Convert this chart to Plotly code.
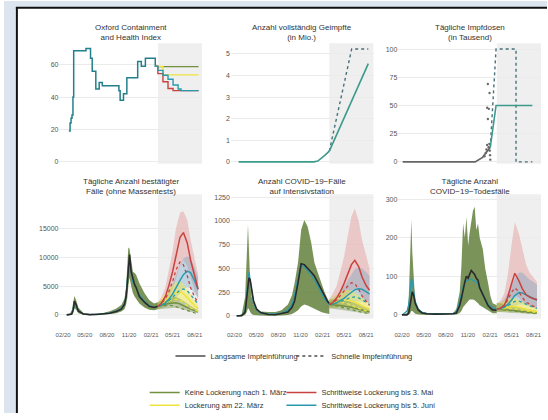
import plotly.graph_objects as go

W, H = 548, 420

# ---------------- shared time settings ----------------
X_RANGE = ["2020-01-17", "2021-09-01"]
SCEN_START = "2021-03-01"
scen_dates = ["2021-03-01", "2021-03-15", "2021-04-01", "2021-04-15", "2021-05-01", "2021-05-15",
              "2021-06-01", "2021-06-15", "2021-07-01", "2021-07-15", "2021-08-01", "2021-08-15"]

scen_names = ["Keine Lockerung nach 1. März", "Lockerung am 22. März",
              "Schrittweise Lockerung bis 3. Mai", "Schrittweise Lockerung bis 5. Juni"]
speed_names = ["Langsame Impfeinführung", "Schnelle Impfeinführung"]

# ---------------- Oxford Containment and Health Index ----------------
ox_dates = ["2020-02-25", "2020-03-01", "2020-03-05", "2020-03-09", "2020-03-13", "2020-03-16",
            "2020-05-06", "2020-05-25", "2020-06-01", "2020-06-16", "2020-06-30", "2020-07-13",
            "2020-09-20", "2020-09-25", "2020-10-09", "2020-10-23", "2020-12-07", "2020-12-22",
            "2021-01-08", "2021-02-18", "2021-03-01"]
ox_index = [19, 24, 27, 29, 40, 68.7, 70, 64, 56, 45, 49, 47, 44, 38, 42, 52, 62, 59, 64, 59, 59]

ox_keine_dates = ["2021-02-18", "2021-03-01", "2021-08-17"]
ox_keine = [59, 58.8, 58.8]
ox_maerz_dates = ["2021-02-18", "2021-03-22", "2021-08-17"]
ox_maerz = [59, 53.7, 53.7]
ox_mai_dates = ["2021-02-18", "2021-03-01", "2021-03-22", "2021-04-12", "2021-05-03", "2021-08-17"]
ox_mai = [59, 54.5, 49.5, 45.3, 44, 44]
ox_juni_dates = ["2021-02-18", "2021-03-01", "2021-03-22", "2021-04-12", "2021-05-03", "2021-05-24",
                 "2021-06-05", "2021-08-17"]
ox_juni = [59, 56.5, 53.5, 51, 47.5, 45, 44, 44]

# ---------------- fully vaccinated (millions) ----------------
vac_hist_dates = ["2020-02-18", "2020-12-27", "2021-01-12", "2021-01-26", "2021-02-10", "2021-03-01"]
vac_hist = [0, 0, 0.04, 0.15, 0.3, 0.5]
vac_slow_dates = ["2021-03-01", "2021-08-10"]
vac_slow = [0.5, 4.55]
vac_fast_dates = ["2021-03-01", "2021-06-02", "2021-08-10"]
vac_fast = [0.5, 5.23, 5.23]

# ---------------- daily vaccine doses (thousands) ----------------
dose_hist_dates = ["2020-02-04", "2020-12-01", "2021-01-01", "2021-01-20", "2021-02-02"]
dose_hist = [0, 0, 4, 10, 13]
dose_obs_dates = ["2021-01-09", "2021-01-14", "2021-01-17", "2021-01-20", "2021-01-20", "2021-01-23",
                  "2021-01-23", "2021-01-26", "2021-01-27", "2021-01-29", "2021-01-30", "2021-01-31",
                  "2021-02-01", "2021-02-02"]
dose_obs = [5, 8, 11, 15, 48, 38, 69, 13, 47, 16, 61, 10, 6, 2]
dose_slow_dates = ["2021-02-02", "2021-02-26", "2021-07-27"]
dose_slow = [13, 50, 50]
dose_fast_dates = ["2021-02-02", "2021-02-26", "2021-05-20", "2021-05-20", "2021-07-27"]
dose_fast = [13, 100, 100, 0, 0]

# ---------------- confirmed cases ----------------
cases_hist_dates = ["2020-02-16", "2020-03-01", "2020-03-08", "2020-03-15", "2020-03-19", "2020-03-26",
                    "2020-04-04", "2020-04-25", "2020-05-22", "2020-06-19", "2020-07-16", "2020-08-13",
                    "2020-09-09", "2020-09-30", "2020-10-13", "2020-10-20", "2020-10-25", "2020-10-29",
                    "2020-11-03", "2020-11-10", "2020-11-17", "2020-11-24", "2020-11-30", "2020-12-14",
                    "2021-01-04", "2021-01-24", "2021-02-13", "2021-03-01"]
cases_obs = [0, 20, 150, 1000, 2400, 1800, 700, 150, 50, 80, 150, 300, 600, 1000, 1800, 3200, 5500,
             8500, 10500, 7500, 6200, 5300, 4800, 3200, 2200, 1500, 1300, 1500]
cases_fit = [0, 30, 250, 1200, 2300, 1800, 700, 150, 60, 100, 180, 350, 650, 1100, 1900, 3300, 5500,
             8200, 9000, 7000, 5800, 5200, 4700, 3500, 2400, 1600, 1300, 1500]
cases_hi = [50, 200, 800, 2200, 3300, 2600, 1300, 350, 150, 200, 350, 650, 1100, 1700, 2800, 5000, 8000,
            11700, 11500, 9000, 7500, 7300, 7000, 5500, 3800, 2600, 2000, 2200]
cases_lo = [0, 0, 30, 400, 1200, 900, 300, 50, 20, 30, 60, 150, 300, 600, 1000, 1800, 3000, 5000, 6500,
            5000, 3800, 3200, 2800, 2000, 1300, 900, 800, 1000]

cases_keine = [1500, 1600, 1800, 2000, 2100, 2100, 1900, 1600, 1300, 1000, 750, 550]
cases_keine_lo = [1000, 1050, 1150, 1250, 1300, 1250, 1100, 900, 720, 550, 400, 300]
cases_keine_hi = [2200, 2400, 2700, 3000, 3100, 3100, 2800, 2400, 1900, 1500, 1100, 850]
cases_keine_fast = [1500, 1550, 1650, 1700, 1600, 1400, 1150, 900, 700, 500, 350, 250]
cases_maerz = [1500, 1900, 2500, 3000, 3500, 3900, 4000, 3700, 3000, 2300, 1600, 1100]
cases_maerz_lo = [1000, 1200, 1600, 1900, 2200, 2400, 2400, 2200, 1800, 1300, 900, 600]
cases_maerz_hi = [2200, 2800, 3700, 4500, 5200, 5700, 5800, 5400, 4500, 3500, 2500, 1800]
cases_maerz_fast = [1500, 1800, 2200, 2500, 2700, 2700, 2500, 2100, 1600, 1200, 900, 600]
cases_mai = [1500, 2000, 3200, 5000, 7500, 10500, 13500, 14300, 12500, 9500, 6500, 4500]
cases_mai_lo = [1000, 1300, 2000, 3000, 4500, 6500, 8500, 9500, 8500, 6500, 4300, 3000]
cases_mai_hi = [2200, 3000, 4800, 7500, 11000, 15000, 17800, 18000, 16500, 13000, 9500, 7000]
cases_mai_fast = [1500, 1900, 2800, 4000, 5800, 7800, 9200, 8700, 6800, 4700, 3100, 2100]
cases_juni = [1500, 1700, 2100, 2700, 3600, 4800, 6000, 7000, 7600, 7300, 5900, 4400]
cases_juni_lo = [1000, 1100, 1350, 1700, 2200, 2900, 3700, 4400, 4800, 4600, 3700, 2800]
cases_juni_hi = [2200, 2500, 3100, 4000, 5300, 7000, 8700, 9800, 10200, 9800, 8200, 6500]
cases_juni_fast = [1500, 1650, 2000, 2400, 3000, 3700, 4300, 4500, 4200, 3500, 2600, 1900]

# ---------------- ICU occupancy ----------------
icu_hist_dates = ["2020-02-10", "2020-03-02", "2020-03-16", "2020-03-23", "2020-03-28", "2020-04-01",
                  "2020-04-06", "2020-04-12", "2020-04-20", "2020-05-03", "2020-05-20", "2020-06-20",
                  "2020-07-20", "2020-08-14", "2020-09-10", "2020-09-27", "2020-10-08", "2020-10-22",
                  "2020-11-04", "2020-11-17", "2020-12-01", "2020-12-16", "2020-12-29", "2021-01-12",
                  "2021-01-26", "2021-02-09", "2021-02-22", "2021-03-01"]
icu_hi = [0, 20, 200, 600, 960, 700, 350, 200, 120, 60, 45, 40, 40, 60, 120, 217, 350, 561, 906, 1009,
          940, 768, 561, 458, 355, 251, 180, 150]
icu_lo = [0, 0, 10, 40, 80, 70, 40, 20, 10, 5, 3, 2, 2, 5, 10, 20, 35, 60, 100, 120, 110, 90, 70, 55,
          40, 30, 25, 20]
icu_obs = [0, 2, 40, 200, 330, 400, 380, 280, 160, 70, 35, 15, 12, 25, 40, 90, 160, 350, 550, 540, 505,
           460, 420, 350, 285, 200, 150, 130]
icu_fit = [0, 5, 60, 250, 420, 460, 380, 250, 130, 60, 30, 20, 20, 30, 60, 120, 220, 400, 530, 520, 480,
           430, 380, 320, 250, 180, 140, 120]

icu_keine = [120, 120, 115, 110, 105, 100, 90, 80, 70, 60, 50, 40]
icu_keine_lo = [80, 75, 70, 65, 60, 55, 50, 42, 36, 30, 25, 20]
icu_keine_hi = [170, 175, 175, 170, 165, 160, 150, 135, 120, 105, 90, 75]
icu_keine_fast = [120, 115, 105, 95, 85, 75, 62, 50, 40, 32, 25, 20]
icu_maerz = [120, 130, 145, 160, 170, 170, 160, 145, 125, 105, 85, 70]
icu_maerz_lo = [80, 85, 90, 95, 95, 90, 85, 75, 65, 55, 45, 35]
icu_maerz_hi = [170, 190, 220, 250, 270, 275, 265, 245, 215, 185, 155, 130]
icu_maerz_fast = [120, 125, 135, 140, 140, 130, 115, 95, 80, 65, 50, 40]
icu_mai = [120, 140, 190, 250, 340, 430, 540, 585, 520, 410, 320, 270]
icu_mai_lo = [80, 90, 110, 140, 180, 220, 270, 290, 260, 200, 160, 130]
icu_mai_hi = [180, 230, 320, 450, 620, 820, 1050, 1130, 1000, 800, 620, 500]
icu_mai_fast = [120, 135, 170, 210, 260, 310, 350, 340, 280, 210, 150, 110]
icu_juni = [120, 125, 140, 160, 185, 215, 250, 275, 285, 280, 255, 230]
icu_juni_lo = [80, 80, 85, 95, 105, 120, 135, 150, 155, 150, 140, 125]
icu_juni_hi = [170, 190, 220, 260, 310, 370, 440, 490, 510, 500, 460, 420]
icu_juni_fast = [120, 125, 135, 150, 165, 180, 195, 200, 190, 170, 145, 120]

# ---------------- daily deaths ----------------
deaths_hist_dates = ["2020-02-01", "2020-02-22", "2020-02-29", "2020-03-07", "2020-03-11", "2020-03-15",
                     "2020-03-21", "2020-03-27", "2020-04-09", "2020-04-25", "2020-05-14", "2020-06-20",
                     "2020-07-20", "2020-09-01", "2020-09-14", "2020-09-28", "2020-10-05", "2020-10-12",
                     "2020-10-19", "2020-10-26", "2020-11-02", "2020-11-08", "2020-11-15", "2020-11-22",
                     "2020-11-29", "2020-12-06", "2020-12-13", "2020-12-20", "2021-01-02", "2021-01-12",
                     "2021-01-23", "2021-02-02", "2021-02-12", "2021-03-01"]
deaths_hi = [0, 5, 42, 170, 246, 161, 76, 34, 13, 8, 5, 4, 4, 5, 15, 60, 127, 237, 200, 254, 180, 212,
             240, 270, 280, 220, 237, 200, 170, 120, 85, 50, 30, 25]
deaths_lo = [0, 0, 0, 5, 10, 10, 5, 3, 1, 0, 0, 0, 0, 0, 1, 5, 10, 20, 25, 30, 35, 40, 40, 40, 38, 35,
             30, 25, 20, 15, 10, 6, 4, 4]
deaths_obs = [0, 0, 5, 25, 45, 60, 50, 30, 12, 5, 3, 2, 2, 3, 5, 25, 43, 70, 85, 100, 95, 105, 115, 110,
              105, 95, 90, 70, 51, 40, 25, 18, 13, 12]
deaths_fit = [0, 10, 25, 60, 95, 85, 60, 35, 15, 6, 4, 3, 3, 4, 8, 35, 55, 72, 82, 88, 90, 92, 92, 90,
              88, 85, 80, 70, 55, 42, 30, 22, 18, 15]

deaths_keine = [15, 15, 14, 13, 12, 11, 10, 9, 8, 7, 6, 5]
deaths_keine_lo = [8, 7, 7, 6, 5, 5, 4, 4, 3, 3, 2, 2]
deaths_keine_hi = [30, 30, 28, 26, 24, 22, 20, 18, 16, 14, 12, 10]
deaths_keine_fast = [15, 14, 13, 12, 10, 9, 7, 6, 5, 4, 3, 3]
deaths_maerz = [15, 16, 18, 20, 22, 22, 20, 17, 14, 12, 10, 9]
deaths_maerz_lo = [8, 8, 9, 9, 10, 10, 9, 8, 6, 5, 4, 4]
deaths_maerz_hi = [30, 32, 36, 40, 44, 44, 40, 35, 29, 25, 21, 19]
deaths_maerz_fast = [15, 15, 16, 17, 17, 16, 14, 12, 10, 8, 7, 6]
deaths_mai = [15, 17, 25, 45, 80, 108, 88, 68, 52, 46, 42, 40]
deaths_mai_lo = [8, 9, 12, 20, 35, 50, 45, 35, 27, 22, 20, 18]
deaths_mai_hi = [30, 35, 55, 100, 180, 240, 210, 170, 130, 110, 95, 85]
deaths_mai_fast = [15, 17, 24, 38, 58, 70, 60, 45, 33, 27, 22, 18]
deaths_juni = [15, 16, 20, 27, 38, 50, 58, 57, 52, 47, 42, 38]
deaths_juni_lo = [8, 8, 10, 13, 18, 23, 27, 27, 25, 22, 20, 18]
deaths_juni_hi = [30, 32, 40, 55, 75, 95, 110, 110, 100, 92, 85, 78]
deaths_juni_fast = [15, 16, 19, 24, 30, 35, 36, 33, 28, 24, 20, 17]

# ---------------- styling ----------------
C_GREEN = "#71913f"
C_YELLOW = "#eee43c"
C_RED = "#c8423f"
C_TEAL = "#2b9aae"
C_OX = "#23808a"
C_VAC = "#3c9a8c"
C_VAC_DOT = "#46707a"
C_DARK = "#4d4d4d"
FILL_HIST = "rgba(98,128,60,0.85)"
FILL = {"keine": "rgba(110,140,60,0.40)", "maerz": "rgba(245,235,60,0.45)",
        "mai": "rgba(225,110,110,0.30)", "juni": "rgba(80,150,190,0.30)"}
LINE = {"keine": C_GREEN, "maerz": C_YELLOW, "mai": C_RED, "juni": C_TEAL}
FONT = "Liberation Sans, Arial, sans-serif"


def px(x):
    return x / W


def py(y):
    return 1 - y / H


fig = go.Figure()


def axes_of(i):
    return ("x" if i == 1 else f"x{i}"), ("y" if i == 1 else f"y{i}")


def add_line(i, x, y, color, width=1.4, dash="solid", shape="linear"):
    xa, ya = axes_of(i)
    fig.add_trace(go.Scatter(x=x, y=y, mode="lines", xaxis=xa, yaxis=ya, showlegend=False,
                             hoverinfo="skip",
                             line=dict(color=color, width=width, dash=dash, shape=shape)))


def add_band(i, x, lo, hi, fill):
    xa, ya = axes_of(i)
    fig.add_trace(go.Scatter(x=x, y=lo, mode="lines", line=dict(width=0), xaxis=xa, yaxis=ya,
                             showlegend=False, hoverinfo="skip"))
    fig.add_trace(go.Scatter(x=x, y=hi, mode="lines", line=dict(width=0), fill="tonexty",
                             fillcolor=fill, xaxis=xa, yaxis=ya, showlegend=False, hoverinfo="skip"))


# ---- panel 1: Oxford index (step lines) ----
add_line(1, ox_dates, ox_index, C_OX, 1.5, shape="hv")
add_line(1, ox_keine_dates, ox_keine, C_GREEN, 1.4, shape="hv")
add_line(1, ox_maerz_dates, ox_maerz, C_YELLOW, 1.4, shape="hv")
add_line(1, ox_mai_dates, ox_mai, C_RED, 1.4, shape="hv")
add_line(1, ox_juni_dates, ox_juni, C_TEAL, 1.4, shape="hv")

# ---- panel 2: fully vaccinated ----
add_line(2, vac_hist_dates, vac_hist, C_VAC, 1.6)
add_line(2, vac_fast_dates, vac_fast, C_VAC_DOT, 1.4, dash="dot")
add_line(2, vac_slow_dates, vac_slow, C_VAC, 1.6)

# ---- panel 3: daily doses ----
add_line(3, dose_hist_dates, dose_hist, "#666666", 1.8)
fig.add_trace(go.Scatter(x=dose_obs_dates, y=dose_obs, mode="markers", xaxis="x3", yaxis="y3",
                         showlegend=False, hoverinfo="skip",
                         marker=dict(color="#6a6a6a", size=2.4)))
add_line(3, dose_fast_dates, dose_fast, C_VAC_DOT, 1.4, dash="dot")
add_line(3, dose_slow_dates, dose_slow, C_VAC, 1.6)

# ---- bottom panels: history band + scenario projections ----
bottom = [
    (4, cases_hist_dates, cases_lo, cases_hi, cases_fit, cases_obs, {
        "keine": (cases_keine_lo, cases_keine_hi, cases_keine, cases_keine_fast),
        "maerz": (cases_maerz_lo, cases_maerz_hi, cases_maerz, cases_maerz_fast),
        "mai": (cases_mai_lo, cases_mai_hi, cases_mai, cases_mai_fast),
        "juni": (cases_juni_lo, cases_juni_hi, cases_juni, cases_juni_fast)}),
    (5, icu_hist_dates, icu_lo, icu_hi, icu_fit, icu_obs, {
        "keine": (icu_keine_lo, icu_keine_hi, icu_keine, icu_keine_fast),
        "maerz": (icu_maerz_lo, icu_maerz_hi, icu_maerz, icu_maerz_fast),
        "mai": (icu_mai_lo, icu_mai_hi, icu_mai, icu_mai_fast),
        "juni": (icu_juni_lo, icu_juni_hi, icu_juni, icu_juni_fast)}),
    (6, deaths_hist_dates, deaths_lo, deaths_hi, deaths_fit, deaths_obs, {
        "keine": (deaths_keine_lo, deaths_keine_hi, deaths_keine, deaths_keine_fast),
        "maerz": (deaths_maerz_lo, deaths_maerz_hi, deaths_maerz, deaths_maerz_fast),
        "mai": (deaths_mai_lo, deaths_mai_hi, deaths_mai, deaths_mai_fast),
        "juni": (deaths_juni_lo, deaths_juni_hi, deaths_juni, deaths_juni_fast)}),
]

for i, hd, lo, hi, fit, obs, scen in bottom:
    add_band(i, hd, lo, hi, FILL_HIST)
    for key in ["mai", "juni", "maerz", "keine"]:
        s_lo, s_hi, _, _ = scen[key]
        add_band(i, scen_dates, s_lo, s_hi, FILL[key])
    add_line(i, hd, fit, C_TEAL, 1.3)
    add_line(i, hd, obs, "#2a2a2a", 1.6)
    for key in ["keine", "maerz", "juni", "mai"]:
        _, _, slow, fast = scen[key]
        add_line(i, scen_dates, fast, LINE[key], 1.3, dash="dot")
        add_line(i, scen_dates, slow, LINE[key], 1.5)

# ---- legend entries (one legend box per entry, placed individually) ----
legend_items = [
    ("legend", speed_names[0], C_DARK, "solid"),
    ("legend2", speed_names[1], C_DARK, "dot"),
    ("legend3", scen_names[0], C_GREEN, "solid"),
    ("legend4", scen_names[1], C_YELLOW, "solid"),
    ("legend5", scen_names[2], C_RED, "solid"),
    ("legend6", scen_names[3], C_TEAL, "solid"),
]
for leg, name, color, dash in legend_items:
    fig.add_trace(go.Scatter(x=[None], y=[None], mode="lines", name=name, legend=leg,
                             line=dict(color=color, width=1.5, dash=dash)))

# ---- axes ----
col_px = {1: (56, 200), 2: (229, 373), 3: (398, 542), 4: (56, 200), 5: (229, 373), 6: (398, 542)}
row_px = {1: (166, 43), 2: (166, 43), 3: (166, 43), 4: (324, 197), 5: (324, 197), 6: (324, 197)}
y_spec = {
    1: ([-1.2, 73.3], [0, 20, 40, 60]),
    2: ([-0.09, 5.5], [0, 1, 2, 3, 4, 5]),
    3: ([-1.7, 105.2], [0, 25, 50, 75, 100]),
    4: ([-682, 20965], [0, 5000, 10000, 15000]),
    5: ([-31, 1281], [0, 250, 500, 750, 1000, 1250]),
    6: ([-10.2, 312.7], [0, 100, 200, 300]),
}
titles = {
    1: "Oxford Containment<br>and Health Index",
    2: "Anzahl vollständig Geimpfte<br>(in Mio.)",
    3: "Tägliche Impfdosen<br>(in Tausend)",
    4: "Tägliche Anzahl bestätigter<br>Fälle (ohne Massentests)",
    5: "Anzahl COVID−19−Fälle<br>auf Intensivstation",
    6: "Tägliche Anzahl<br>COVID−19−Todesfälle",
}

layout = {}
annotations = []
shapes = []
for i in range(1, 7):
    xname = "xaxis" if i == 1 else f"xaxis{i}"
    yname = "yaxis" if i == 1 else f"yaxis{i}"
    xa, ya = axes_of(i)
    x0, x1 = col_px[i]
    yb, yt = row_px[i]
    layout[xname] = dict(domain=[px(x0), px(x1)], range=X_RANGE, type="date", anchor=ya,
                         showgrid=False, zeroline=False, showline=False,
                         ticks="outside", ticklen=10, tickcolor="rgba(0,0,0,0)",
                         showticklabels=i >= 4, tickformat="%m/%y", dtick="M3", tick0="2020-02-01",
                         tickfont=dict(size=6, color="#5a5a5a", family=FONT))
    rng, tv = y_spec[i]
    layout[yname] = dict(domain=[py(yb), py(yt)], range=rng, anchor=xa, tickvals=tv,
                         tickformat="d",
                         showgrid=True, gridcolor="#ebebeb", gridwidth=0.7, zeroline=False,
                         showline=False, ticks="",
                         tickfont=dict(size=7, color="#555555", family=FONT))
    shapes.append(dict(type="rect", xref=xa, yref=f"{ya} domain", x0=SCEN_START, x1=X_RANGE[1],
                       y0=0, y1=1, fillcolor="#efefef", line=dict(width=0), layer="below"))
    ty = 32.5 if i <= 3 else 189.5
    annotations.append(dict(text=titles[i], xref="paper", yref="paper", x=px((x0 + x1) / 2),
                            y=py(ty), showarrow=False, xanchor="center", yanchor="middle",
                            font=dict(size=8, color="#333333", family=FONT)))

# frame strip around the figure
FRAME_BG = "#dbe4ef"
shapes += [
    dict(type="rect", xref="paper", yref="paper", x0=0, x1=px(12), y0=0, y1=1,
         fillcolor=FRAME_BG, line=dict(width=0), layer="below"),
    dict(type="rect", xref="paper", yref="paper", x0=0, x1=1, y0=py(6), y1=1,
         fillcolor=FRAME_BG, line=dict(width=0), layer="below"),
    dict(type="line", xref="paper", yref="paper", x0=px(13), x1=px(13), y0=0, y1=py(6),
         line=dict(color="#111111", width=2)),
    dict(type="line", xref="paper", yref="paper", x0=px(12), x1=1, y0=py(7), y1=py(7),
         line=dict(color="#111111", width=2)),
]

legend_common = dict(orientation="h", xanchor="left", yanchor="middle", bgcolor="rgba(0,0,0,0)",
                     font=dict(size=7.5, color="#333333", family=FONT), itemwidth=30,
                     traceorder="normal")
# text start (px) and row centre (px) of every legend box
legend_pos = {"legend": (208, 362), "legend2": (330, 362), "legend3": (182, 399),
              "legend4": (182, 412), "legend5": (320, 399), "legend6": (320, 412)}
legend_layout = {k: dict(x=px(tx - 40), y=py(ty), **legend_common)
                 for k, (tx, ty) in legend_pos.items()}

fig.update_layout(
    width=W, height=H, margin=dict(l=0, r=0, t=0, b=0),
    paper_bgcolor="white", plot_bgcolor="white",
    font=dict(family=FONT),
    annotations=annotations, shapes=shapes,
    **legend_layout,
    **layout,
)

fig.write_html("out.html")
